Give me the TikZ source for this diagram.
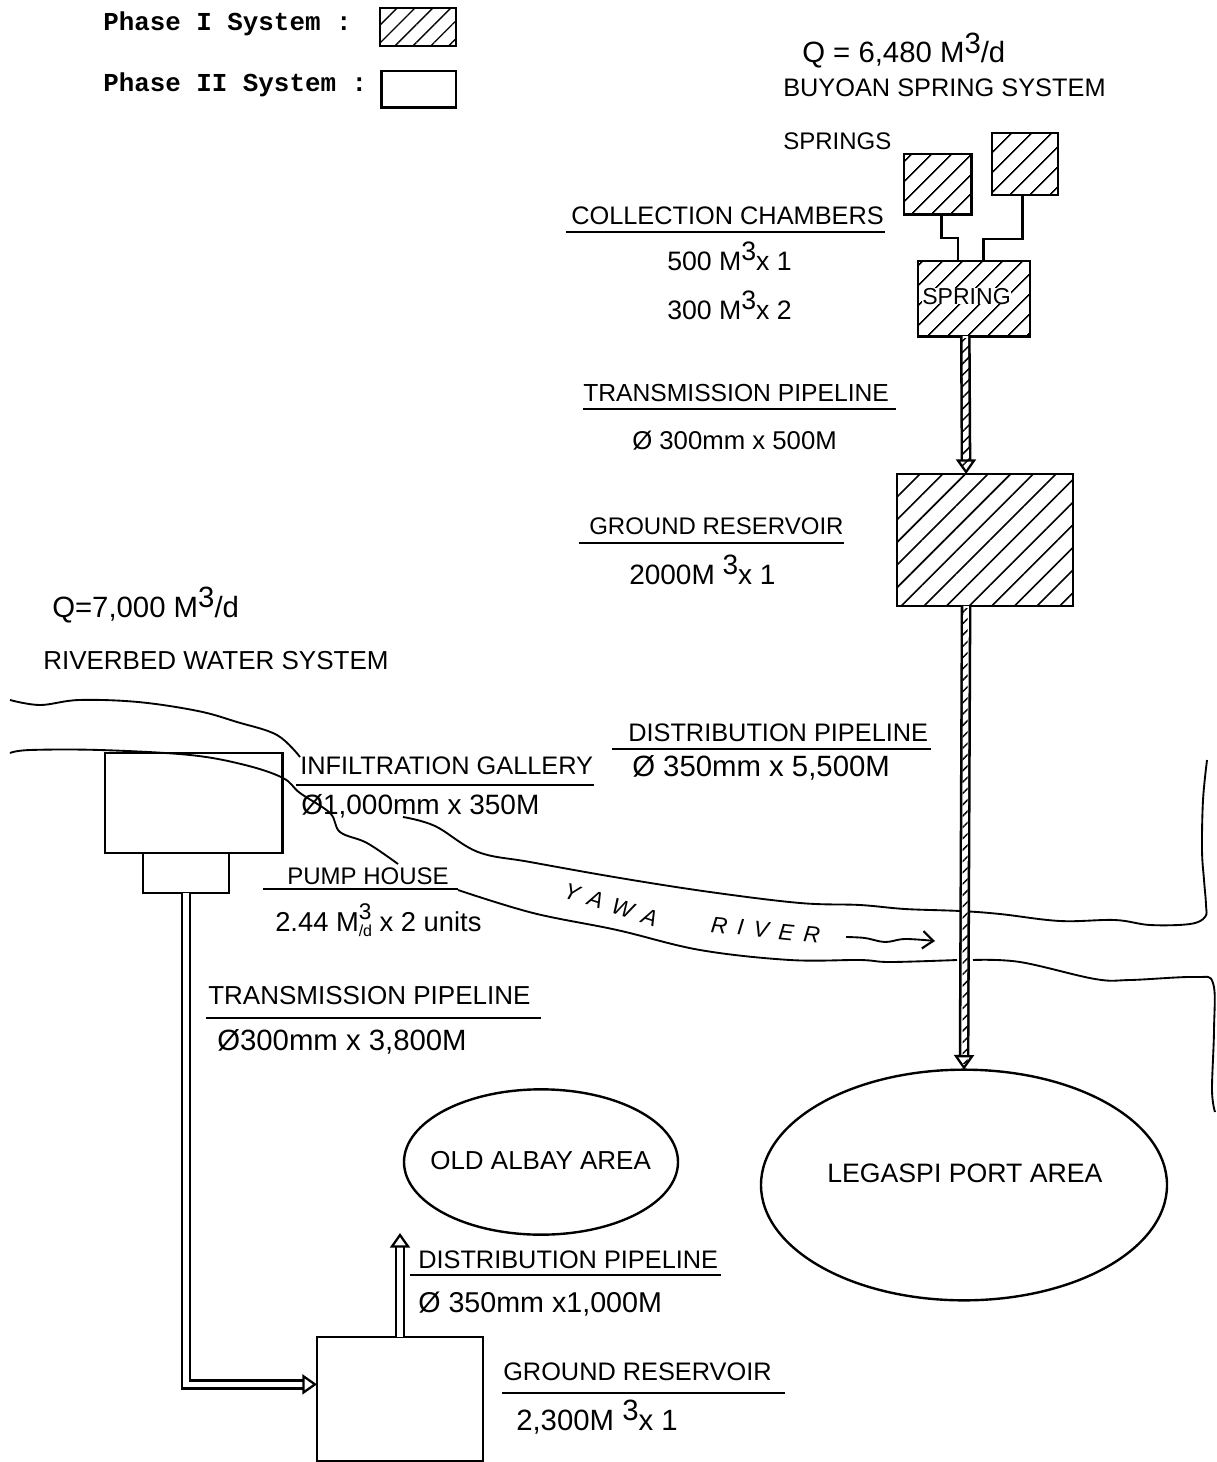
\documentclass[tikz,border=0pt]{standalone}
\usepackage{fontspec}
\setmainfont{Liberation Sans}
\newfontfamily\legendfont{Liberation Mono}
\usetikzlibrary{arrows.meta,patterns.meta,calc,shapes.geometric}
\newcommand{\cubed}{\raisebox{7pt}{3}}
\tikzset{
  box/.style={draw,line width=2pt,inner sep=0pt,outer sep=0pt},
  hatched/.style={box,pattern={Lines[angle=45,distance=10.5pt,line width=1.2pt]}},
  hatchedbig/.style={box,pattern={Lines[angle=45,distance=12pt,line width=1.2pt]}},
  hatchedkey/.style={box,pattern={Lines[angle=45,distance=9.5pt,line width=1pt]}},
  area/.style={draw,ellipse,line width=1.8pt,inner sep=0pt,outer sep=0pt},
  lbl/.style={anchor=base west,inner sep=0pt,font=\fontsize{#1}{20}\selectfont},
  lbl/.default=19,
  legend/.style={anchor=base west,inner sep=0pt,font=\legendfont\bfseries\fontsize{19.4}{20}\selectfont},
  rule/.style={line width=1.3pt},
  bank/.style={line width=1.4pt,line join=round},
  feed/.style={line width=2.1pt},
  pipe/.style={line width=1.9pt,double,double distance=4.2pt,-{Triangle[open,fill=white,length=11pt,width=15pt,line width=1.7pt]}},
  twist/.style={pattern={Lines[angle=45,distance=6pt,line width=1.1pt]}},
}
\begin{document}
\begin{tikzpicture}[x=0.75pt,y=0.75pt,yscale=-1,xscale=1]
\useasboundingbox (0,0) rectangle (1216,1462);
%Shape: Legend
\node [hatchedkey,minimum width=57pt,minimum height=28.5pt] (legendA) at (418,27) {};
\node [box,minimum width=56pt,minimum height=27.5pt] (legendB) at (418.5,89.5) {};
%Shape: Springs
\node [hatched,minimum width=50.5pt,minimum height=45.5pt] (springA) at (937.5,184.5) {};
\node [hatched,minimum width=49.5pt,minimum height=46.5pt] (springB) at (1025,164) {};
\node [hatched,minimum width=84pt,minimum height=56.5pt] (chamber) at (974,298.5) {};
\node [hatchedbig,minimum width=132pt,minimum height=99pt] (reservoirA) at (985,540) {};
%Shape: Riverbed system
\node [box,minimum width=133pt,minimum height=75pt] (gallery) at (193.5,803) {};
\node [box,minimum width=64.5pt,minimum height=30pt] (pump) at (186,873) {};
\node [box,minimum width=124.5pt,minimum height=93pt] (reservoirB) at (400,1399) {};
%Shape: Areas
\node [area,minimum width=205.5pt,minimum height=109pt] (albay) at (541,1162) {};
\node [area,minimum width=304.5pt,minimum height=173pt] (legaspi) at (964,1185) {};
%Free ends
\coordinate (outlet) at (400,1233);
%River banks
\draw [bank] plot [smooth,tension=.6] coordinates {(10,700) (40,705) (79,700) (138,702) (198,711) (237,722) (277,735) (300,757)};
\draw [bank] plot [smooth,tension=.6] coordinates {(403,817) (435,826) (478,852) (530,862) (620,878) (710,892) (800,903) (860,905) (905,909) (960,911) (1000,914) (1060,921) (1115,920) (1150,925) (1190,924) (1205,917) (1206,905) (1204,880) (1202,850) (1203,800) (1207,760)};
\draw [bank] plot [smooth,tension=.6] coordinates {(10,753) (30,750) (100,750) (190,755) (245,765) (283,778) (300,793) (330,813) (340,832) (367,843) (398,864)};
\draw [bank] plot [smooth,tension=.6] coordinates {(458,890) (533,913) (617,930) (700,950) (790,960) (860,960) (890,962) (957,960)};
\draw [bank] plot [smooth,tension=.6] coordinates {(973,960) (1020,962) (1095,979) (1130,980) (1195,977) (1213,983) (1214,1030) (1212,1090) (1215,1112)};
%River flow
\draw [bank,-{Straight Barb[length=8pt,width=13pt,line width=1.6pt]}] plot [smooth,tension=.6] coordinates {(846,937) (865,938) (885,942) (905,939) (935,941)};
%Feeders
\draw [feed] (springA.-82.5) |- (942,238) -| (chamber.113.1);
\draw [feed] (springB.-95.5) |- (1022,239) -| (chamber.76.5);
%Pipes
\draw [pipe] (chamber.-103.5) -- (reservoirA.106.9);
\draw [pipe] (reservoirA.-106.9) -- (legaspi.north);
\draw [pipe] (pump.south) |- (reservoirB.170);
\draw [pipe] (reservoirB.north) -- (outlet);
%Pipe hatching
\path [twist] ($(chamber.-103.5)+(-3.5,2)$) rectangle ($(reservoirA.106.9)+(3.5,-6)$);
\path [twist] ($(reservoirA.-106.9)+(-3.5,2)$) rectangle ($(legaspi.north)+(3.5,-6)$);
% Text Node
\node [legend] (phaseA) at (103,31) {Phase I System :};
\node [legend] (phaseB) at (103,92) {Phase II System :};
\node [lbl=22] (flowA) at (802,63) {Q = 6,480 M\cubed/d};
\node [lbl] (nameA) at (783,97) {BUYOAN SPRING SYSTEM};
\node [lbl=18] (springs) at (783,150) {SPRINGS};
\node [lbl] (collection) at (571,225) {COLLECTION CHAMBERS};
\node [lbl=20] (sizeA) at (667,270) {500 M\cubed x 1};
\node [lbl=20] (sizeB) at (667,319) {300 M\cubed x 2};
\node [lbl=17.3,fill=white] (springtxt) at (922,304) {SPRING};
\node [lbl=18.5] (transA) at (583,401) {TRANSMISSION PIPELINE};
\node [lbl=19.3] (transAsize) at (632,449) {Ø 300mm x 500M};
\node [lbl=18] (groundA) at (589,534) {GROUND RESERVOIR};
\node [lbl=21] (groundAsize) at (629,584) {2000M \cubed x 1};
\node [lbl=22] (flowB) at (52,617) {Q=7,000 M\cubed/d};
\node [lbl=19.5] (nameB) at (43,669) {RIVERBED WATER SYSTEM};
\node [lbl] (distA) at (628,741) {DISTRIBUTION PIPELINE};
\node [lbl=22] (distAsize) at (632,776) {Ø 350mm x 5,500M};
\node [lbl] (infil) at (300,774) {INFILTRATION GALLERY};
\node [lbl=21] (infilsize) at (301,814) {Ø1,000mm x 350M};
\node [lbl=18] (pumptxt) at (287,884) {PUMP HOUSE};
\node [lbl=20.5] (pumpsize) at (275,931) {2.44 M\raisebox{9pt}{\fontsize{17}{17}\selectfont 3}\hspace{-9.5pt}\raisebox{-4pt}{\fontsize{12}{12}\selectfont /d} x 2 units};
\node [lbl=19.5] (transB) at (208,1004) {TRANSMISSION PIPELINE};
\node [lbl=22] (transBsize) at (217,1050) {Ø300mm x 3,800M};
\node [lbl=19.5] (albaytxt) at (430,1169) {OLD ALBAY AREA};
\node [lbl=20] (legaspitxt) at (827,1182) {LEGASPI PORT AREA};
\node [lbl] (distB) at (418,1268) {DISTRIBUTION PIPELINE};
\node [lbl=21.5] (distBsize) at (418,1312) {Ø 350mm x1,000M};
\node [lbl] (groundB) at (503,1380) {GROUND RESERVOIR};
\node [lbl=22] (groundBsize) at (516,1430) {2,300M \cubed x 1};
\node [lbl,font=\itshape\fontsize{17}{18}\selectfont,rotate=-18] (yawa) at (562,897) {Y\;\,A\;\,W\;\,A};
\node [lbl,font=\itshape\fontsize{17}{18}\selectfont,rotate=-6] (river) at (710,932) {R\;\,I\;\,V\;\,E\;\,R};
%Rules
\draw [rule] (566,232) -- (885,232);
\draw [rule] (583,409) -- (896,409);
\draw [rule] (579,543) -- (844,543);
\draw [rule] (612,749) -- (931,749);
\draw [rule] (296,785) -- (594,785);
\draw [rule] (263,889) -- (458,889);
\draw [rule] (206,1018) -- (541,1018);
\draw [rule] (410,1275) -- (721,1275);
\draw [rule] (502,1393) -- (785,1393);
\end{tikzpicture}
\end{document}
